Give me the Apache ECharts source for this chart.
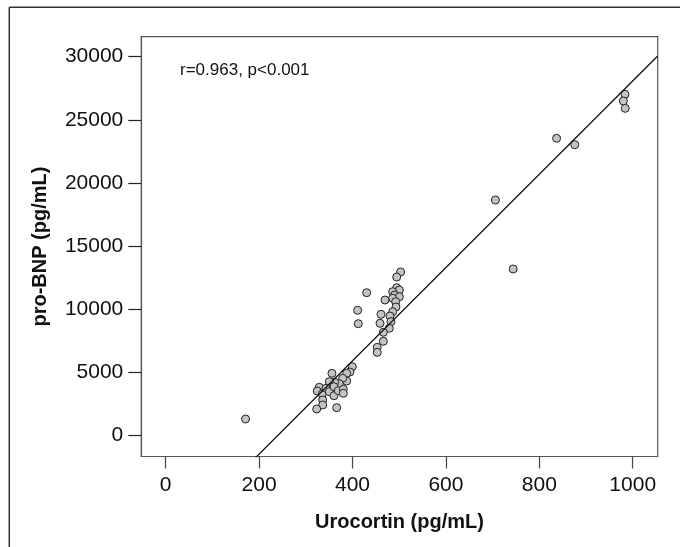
<!DOCTYPE html>
<html>
<head>
<meta charset="utf-8">
<script src="https://cdn.jsdelivr.net/npm/echarts@6/dist/echarts.min.js"></script>
<style>
html,body{margin:0;padding:0;background:#fff;}
#c{width:680px;height:547px;}
</style>
</head>
<body>
<div id="c"></div>
<script>
// Data (Urocortin pg/mL, pro-BNP pg/mL)
const urocortin = [
  171,
  399.6, 394.6, 387.6, 356, 387.6, 379, 371.7, 361.9, 350.3, 328.9, 324.6, 335.3,
  343.3, 350.3, 360.4, 360.4, 369.6, 380.3, 380.3, 336.2, 336.2, 323.3, 366.2,
  503, 494.6, 430.4, 494.6, 500.3, 486, 490.4, 500.3, 486, 469.6, 492.5, 411,
  493.1, 461, 486, 480.3, 412.4, 458.9, 482.4, 478.8, 466, 466, 453, 453,
  706, 744, 837, 876, 983.5, 980, 984
];
const proBNP = [
  1292,
  5436, 5016, 4913, 4913, 4303, 4517, 4089, 4200, 4247, 3804, 3510, 3273,
  3724, 3455, 3851, 3138, 3534, 3645, 3328, 2797, 2401, 2084, 2187,
  12940, 12544, 11300, 11696, 11513, 11379, 11117, 10983, 10856, 10721, 10587, 9905,
  10166, 9588, 9794, 9453, 8843, 8875, 9002, 8478, 8162, 7448, 6973, 6577,
  18645, 13178, 23534, 23027, 27021, 26490, 25911
];
const xTicks = [0, 200, 400, 600, 800, 1000];
const yTicks = [0, 5000, 10000, 15000, 20000, 25000, 30000];
const fitSlope = 36.96;
const fitIntercept = -8884;
const annotation = 'r=0.963, p<0.001';

const xMin = -52.2, xMax = 1053.5, yMin = -1680, yMax = 31585;
const points = urocortin.map((x, i) => [x, proBNP[i]]);
const fitLine = [xMin, xMax].map(x => [x, fitIntercept + fitSlope * x]);

const FONT = '"Liberation Sans", Arial, sans-serif';
const chart = echarts.init(document.getElementById('c'), null, {renderer: 'canvas'});
chart.setOption({
  backgroundColor: '#ffffff',
  animation: false,
  grid: {
    left: 141.3, top: 36.7, right: 22.3, bottom: 90.5,
    show: true, borderColor: '#555', borderWidth: 1.2, backgroundColor: 'transparent'
  },
  xAxis: {
    type: 'value', min: xMin, max: xMax,
    name: 'Urocortin (pg/mL)', nameLocation: 'middle', nameGap: 56,
    nameTextStyle: {fontFamily: FONT, fontSize: 20, fontWeight: 'bold', color: '#111'},
    axisLine: {show: true, onZero: false, lineStyle: {color: '#555', width: 1.2}},
    axisTick: {show: true, inside: false, length: 12, customValues: xTicks, lineStyle: {color: '#444', width: 1.2}},
    axisLabel: {customValues: xTicks, margin: 18, fontFamily: FONT, fontSize: 21, color: '#111',
      formatter: v => String(v)},
    splitLine: {show: false}
  },
  yAxis: {
    type: 'value', min: yMin, max: yMax,
    name: 'pro-BNP (pg/mL)', nameLocation: 'middle', nameGap: 91, nameRotate: 90,
    nameTextStyle: {fontFamily: FONT, fontSize: 20, fontWeight: 'bold', color: '#111'},
    axisLine: {show: true, onZero: false, lineStyle: {color: '#555', width: 1.2}},
    axisTick: {show: true, inside: false, length: 13, customValues: yTicks, lineStyle: {color: '#222', width: 1.2}},
    axisLabel: {customValues: yTicks, margin: 18, fontFamily: FONT, fontSize: 21, color: '#111',
      formatter: v => String(v)},
    splitLine: {show: false}
  },
  graphic: [
    {type: 'line', shape: {x1: 9.3, y1: 7.3, x2: 680, y2: 7.3}, style: {stroke: '#333', lineWidth: 1.5}},
    {type: 'line', shape: {x1: 9.3, y1: 7.3, x2: 9.3, y2: 547}, style: {stroke: '#333', lineWidth: 1.5}},
    {type: 'text', left: 180, top: 62, style: {text: annotation, font: '17px ' + FONT, fill: '#111'}}
  ],
  series: [
    {
      type: 'scatter', data: points, symbol: 'circle', symbolSize: 8,
      itemStyle: {color: '#c3c3c3', borderColor: '#222', borderWidth: 1, opacity: 1},
      z: 2
    },
    {
      type: 'line', data: fitLine, showSymbol: false, symbol: 'none', clip: true,
      lineStyle: {color: '#111', width: 1.3}, z: 3
    }
  ]
});
</script>
</body>
</html>
